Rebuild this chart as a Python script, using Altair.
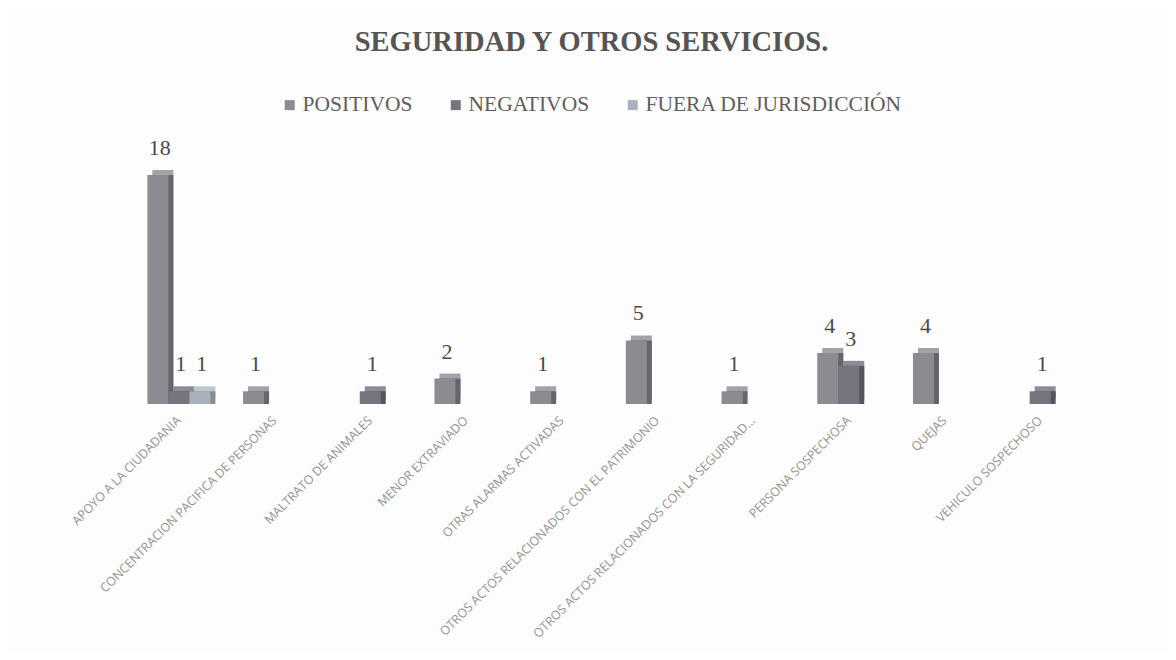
import altair as alt
import pandas as pd

categorias = [
    "APOYO A LA CIUDADANIA",
    "CONCENTRACION PACIFICA DE PERSONAS",
    "MALTRATO DE ANIMALES",
    "MENOR EXTRAVIADO",
    "OTRAS ALARMAS ACTIVADAS",
    "OTROS ACTOS RELACIONADOS CON EL PATRIMONIO",
    "OTROS ACTOS RELACIONADOS CON LA SEGURIDAD...",
    "PERSONA SOSPECHOSA",
    "QUEJAS",
    "VEHICULO SOSPECHOSO",
]
series = ["POSITIVOS", "NEGATIVOS", "FUERA DE JURISDICCIÓN"]
positivos = [18, 1, 0, 2, 1, 5, 1, 4, 4, 0]
negativos = [1, 0, 1, 0, 0, 0, 0, 3, 0, 1]
fuera = [1, 0, 0, 0, 0, 0, 0, 0, 0, 0]

colores = ["#8b8b92", "#74757d", "#a9b1bc"]
colores_techo = ["#a2a2a8", "#8c8d94", "#bfc6cf"]
colores_lado = ["#65656c", "#55565d", "#858e99"]

rows = []
for s, vals in zip(series, [positivos, negativos, fuera]):
    for c, v in zip(categorias, vals):
        if v > 0:
            rows.append({"cat": c, "serie": s, "val": v})
df = pd.DataFrame(rows)

x_enc = alt.X(
    "cat:N",
    sort=categorias,
    title=None,
    scale=alt.Scale(paddingInner=0.342, paddingOuter=0.171),
    axis=alt.Axis(
        labelAngle=-45,
        labelAlign="right",
        labelBaseline="middle",
        labelFont="Open Sans",
        labelFontSize=12.4,
        labelColor="#949494",
        labelPadding=14,
        ticks=False,
        domain=False,
        labelLimit=500,
    ),
)
y_enc = alt.Y("val:Q", scale=alt.Scale(domain=[0, 18], nice=False), axis=None)

def offset_enc(shift):
    return alt.XOffset(
        "serie:N",
        sort=series,
        scale=alt.Scale(type="band", domain=series, range=[shift, 63 + shift], paddingInner=0, paddingOuter=0),
    )

techo = (
    alt.Chart(df)
    .mark_bar(yOffset=-5, y2Offset=-5)
    .encode(
        x=x_enc,
        xOffset=offset_enc(5),
        y=y_enc,
        color=alt.Color("serie:N", scale=alt.Scale(domain=series, range=colores_techo), legend=None),
    )
)

lado = (
    alt.Chart(df)
    .mark_bar(yOffset=0, y2Offset=-5)
    .encode(
        x=x_enc,
        xOffset=offset_enc(5),
        y=y_enc,
        color=alt.Color("serie:N", scale=alt.Scale(domain=series, range=colores_lado), legend=None),
    )
)

frente = (
    alt.Chart(df)
    .mark_bar()
    .encode(
        x=x_enc,
        xOffset=offset_enc(0),
        y=y_enc,
        color=alt.Color(
            "serie:N",
            scale=alt.Scale(domain=series, range=colores),
            legend=alt.Legend(
                title=None,
                orient="none",
                direction="horizontal",
                legendX=148,
                legendY=-81,
                symbolType="square",
                symbolSize=100,
                symbolStrokeWidth=0,
                labelFont="Liberation Serif",
                labelFontSize=21.5,
                labelColor="#5e5e5e",
                labelOffset=2,
                labelLimit=500,
                columnPadding=32,
            ),
        ),
    )
)

etiquetas = (
    alt.Chart(df)
    .mark_text(dy=-20, dx=2, baseline="alphabetic", font="Liberation Serif", fontSize=22, color="#4a4a4a")
    .encode(
        x=x_enc,
        xOffset=alt.XOffset(
            "serie:N",
            sort=series,
            scale=alt.Scale(type="point", domain=series, range=[10.5, 52.5], padding=0),
        ),
        y=y_enc,
        text="val:Q",
    )
)

chart = (
    alt.layer(techo, lado, frente, etiquetas)
    .resolve_scale(color="independent", xOffset="independent")
    .properties(
        width=957,
        height=229,
        autosize=alt.AutoSizeParams(type="none"),
        padding={"left": 123, "top": 167, "right": 80, "bottom": 248},
        background="#fdfdfd",
        title=alt.TitleParams(
            "SEGURIDAD Y OTROS SERVICIOS.",
            anchor="middle",
            font="Liberation Serif",
            fontSize=28.5,
            fontWeight="bold",
            color="#555555",
            dx=-18,
            offset=15,
            baseline="alphabetic",
        ),
    )
    .configure_view(stroke=None)
)

chart.save("out.html", embed_options={"renderer": "svg", "actions": False})
